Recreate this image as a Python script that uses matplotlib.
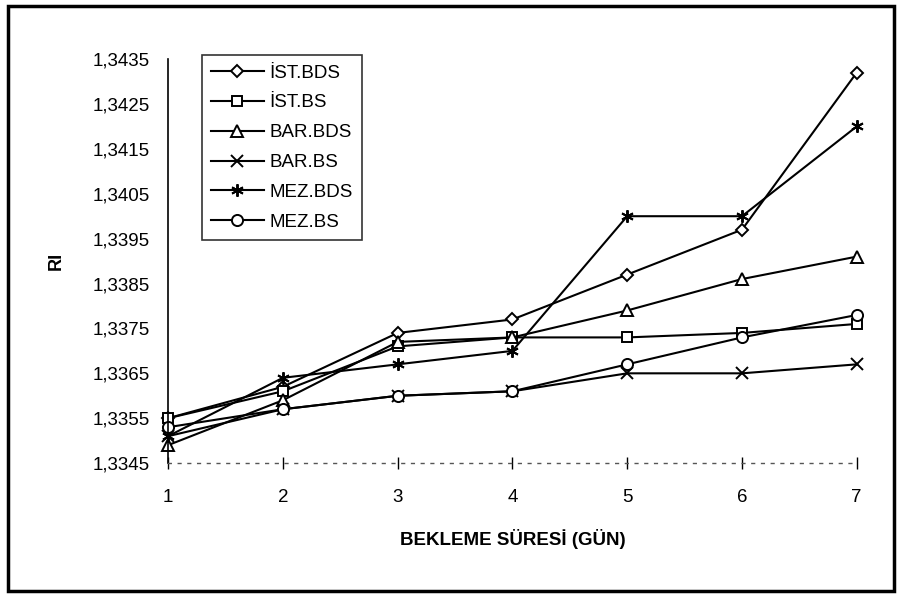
import matplotlib.pyplot as plt
from matplotlib.patches import Rectangle
from matplotlib.ticker import FuncFormatter

plt.rcParams['font.family'] = ['Liberation Sans Narrow', 'Liberation Sans', 'DejaVu Sans']

days = [1, 2, 3, 4, 5, 6, 7]
ist_bds = [1.3355, 1.3362, 1.3374, 1.3377, 1.3387, 1.3397, 1.3432]
ist_bs = [1.3355, 1.3361, 1.3371, 1.3373, 1.3373, 1.3374, 1.3376]
bar_bds = [1.3349, 1.3359, 1.3372, 1.3373, 1.3379, 1.3386, 1.3391]
bar_bs = [1.3351, 1.3357, 1.3360, 1.3361, 1.3365, 1.3365, 1.3367]
mez_bds = [1.3351, 1.3364, 1.3367, 1.3370, 1.3400, 1.3400, 1.3420]
mez_bs = [1.3353, 1.3357, 1.3360, 1.3361, 1.3367, 1.3373, 1.3378]

series = [
    ('İST.BDS', ist_bds, 'D', 6.5),
    ('İST.BS', ist_bs, 's', 7.5),
    ('BAR.BDS', bar_bds, '^', 8),
    ('BAR.BS', bar_bs, 'x', 8),
    ('MEZ.BDS', mez_bds, (6, 2, 0), 9),
    ('MEZ.BS', mez_bs, 'o', 8),
]

yticks = [1.3345 + 0.001 * i for i in range(10)]

fig = plt.figure(figsize=(8.99, 6.03), dpi=100)
ax = fig.add_axes([0.187, 0.232, 0.766, 0.670])

for name, vals, mk, ms in series:
    ax.plot(days, vals, color='black', lw=1.5, marker=mk, markersize=ms,
            markerfacecolor='white', markeredgecolor='black', markeredgewidth=1.4,
            label=name, clip_on=False)

ax.set_xlim(1, 7)
ax.set_ylim(1.3345, 1.3435)
ax.set_xticks(days)
ax.set_yticks(yticks)
ax.yaxis.set_major_formatter(FuncFormatter(lambda v, p: f'{v:.4f}'.replace('.', ',')))
ax.tick_params(axis='y', length=0, pad=13, labelsize=13.5)
ax.tick_params(axis='x', direction='inout', length=9, width=1, pad=14, labelsize=13.5)

ax.spines['top'].set_visible(False)
ax.spines['right'].set_visible(False)
ax.spines['left'].set_linewidth(1.2)
ax.spines['bottom'].set_linestyle((0, (2, 5)))
ax.spines['bottom'].set_color('#555555')
ax.spines['bottom'].set_linewidth(1)

ax.set_xlabel('BEKLEME SÜRESİ (GÜN)', fontsize=13.5, fontweight='bold', labelpad=17)
ax.set_ylabel('RI', fontsize=13, fontweight='bold', labelpad=20)

leg = ax.legend(loc='upper left', bbox_to_anchor=(0.049, 1.01), fontsize=13.5,
                frameon=True, fancybox=False, handlelength=2.8, labelspacing=0.68,
                borderpad=0.5, handletextpad=0.3, borderaxespad=0)
leg.get_frame().set_edgecolor('black')
leg.get_frame().set_linewidth(1.2)

fig.patches.append(Rectangle((0.009, 0.02), 0.985, 0.97, transform=fig.transFigure,
                             fill=False, edgecolor='black', linewidth=2.5))

plt.savefig('out.png', dpi=100)
